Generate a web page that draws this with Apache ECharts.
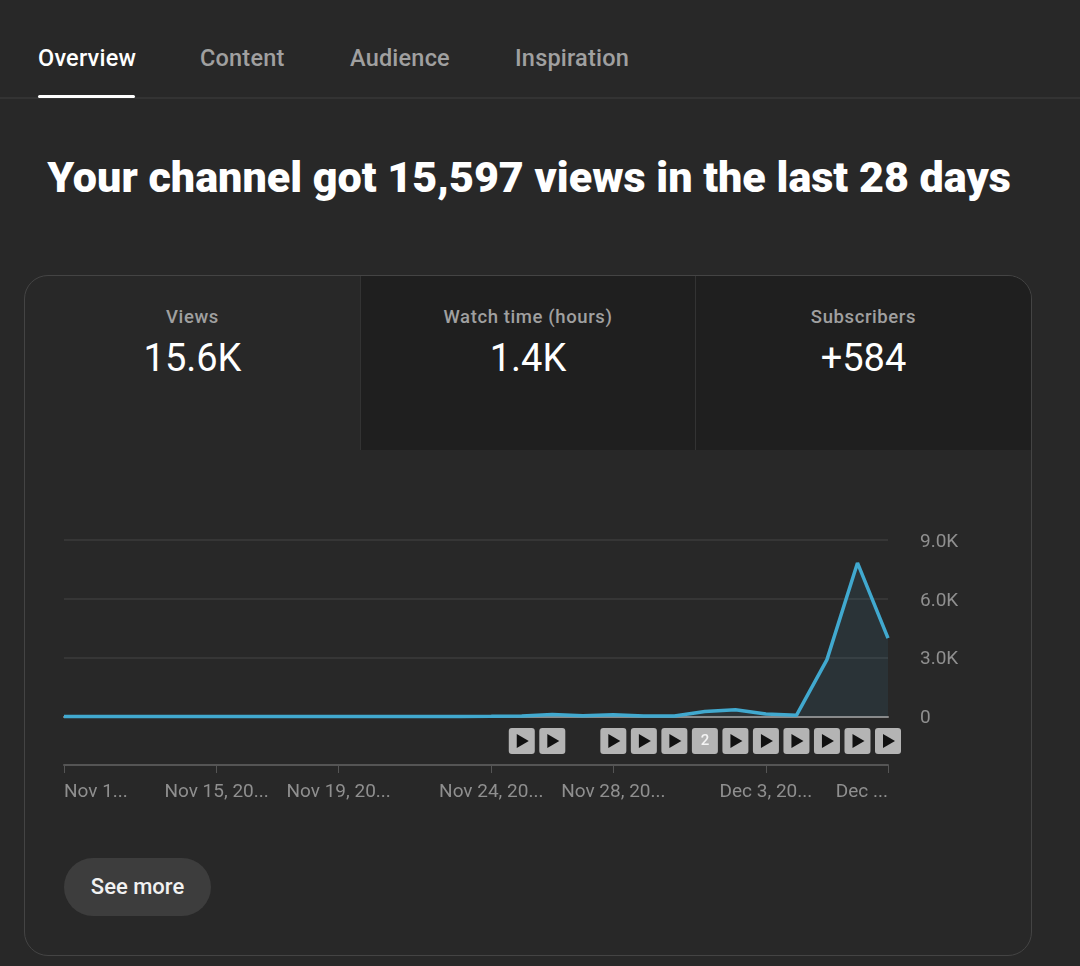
<!DOCTYPE html>
<html>
<head>
<meta charset="utf-8">
<title>Channel overview</title>
<script src="https://cdn.jsdelivr.net/npm/echarts@6/dist/echarts.min.js"></script>
<style>
  html, body { margin: 0; padding: 0; background: #282828; font-family: Roboto, sans-serif; }
  #page { position: relative; width: 1080px; height: 966px; overflow: hidden; background: #282828; }
  .tab { position: absolute; top: 44px; font-size: 23.5px; font-weight: 500; color: #a0a0a0; line-height: 28px; letter-spacing: 0.2px; }
  .tab.active { color: #fff; }
  #tabUnderline { position: absolute; left: 38px; top: 95px; width: 97px; height: 3px; background: #fff; border-radius: 2px; }
  #tabDivider { position: absolute; left: 0; top: 97px; width: 1080px; height: 2px; background: #333; }
  h1 { position: absolute; left: 0; top: 148px; width: 1058px; margin: 0; text-align: center; font-size: 43.1px; line-height: 60px; font-weight: 900; color: #fff; white-space: nowrap; }
  #card { position: absolute; left: 24px; top: 275px; width: 1006px; height: 679px; border: 1px solid #444; border-radius: 24px; overflow: hidden; }
  .metric { position: absolute; top: 0; height: 174px; text-align: center; box-sizing: border-box; }
  .metric.off { background: #1f1f1f; border-left: 1px solid #333; }
  .metric .name { margin-top: 29px; font-size: 18.5px; line-height: 24px; font-weight: 500; color: #a0a0a0; letter-spacing: 0.6px; }
  .metric .value { margin-top: 6px; font-size: 38px; line-height: 46px; color: #fff; }
  #seeMore { position: absolute; left: 64px; top: 858px; width: 147px; height: 58px; line-height: 58px; border-radius: 29px; background: #3d3d3d; color: #f1f1f1; text-align: center; font-size: 22px; font-weight: 500; }
  #chart { position: absolute; left: 0; top: 0; width: 1080px; height: 966px; }
</style>
</head>
<body>
<div id="page">
  <div class="tab active" style="left:38px">Overview</div>
  <div class="tab" style="left:200px">Content</div>
  <div class="tab" style="left:350px">Audience</div>
  <div class="tab" style="left:515px">Inspiration</div>
  <div id="tabDivider"></div>
  <div id="tabUnderline"></div>
  <h1>Your channel got 15,597 views in the last 28 days</h1>
  <div id="card">
    <div class="metric" style="left:0;width:335px"><div class="name">Views</div><div class="value">15.6K</div></div>
    <div class="metric off" style="left:335px;width:335px"><div class="name">Watch time (hours)</div><div class="value">1.4K</div></div>
    <div class="metric off" style="left:670px;width:336px"><div class="name">Subscribers</div><div class="value">+584</div></div>
  </div>
  <div id="chart"></div>
  <div id="seeMore">See more</div>
</div>
<script>
// One entry per day, Nov 10 to Dec 7
const days = ['Nov 10', 'Nov 11', 'Nov 12', 'Nov 13', 'Nov 14', 'Nov 15', 'Nov 16', 'Nov 17', 'Nov 18', 'Nov 19',
  'Nov 20', 'Nov 21', 'Nov 22', 'Nov 23', 'Nov 24', 'Nov 25', 'Nov 26', 'Nov 27', 'Nov 28', 'Nov 29',
  'Nov 30', 'Dec 1', 'Dec 2', 'Dec 3', 'Dec 4', 'Dec 5', 'Dec 6', 'Dec 7'];
const views = [0, 0, 0, 0, 0, 0, 0, 0, 0, 0, 0, 0, 0, 0, 10, 30, 100, 40, 90, 30, 30, 250, 340, 130, 60, 2900, 7830, 4000];

// Labels on the date axis (truncated as in the original)
const tickDays = ['Nov 10', 'Nov 15', 'Nov 19', 'Nov 24', 'Nov 28', 'Dec 3', 'Dec 7'];
const tickLabels = ['Nov 1...', 'Nov 15, 20...', 'Nov 19, 20...', 'Nov 24, 20...', 'Nov 28, 20...', 'Dec 3, 20...', 'Dec ...'];

// Video markers under the line, blank means a play icon
const markerDays = ['Nov 25', 'Nov 26', 'Nov 28', 'Nov 29', 'Nov 30', 'Dec 1', 'Dec 2', 'Dec 3', 'Dec 4', 'Dec 5', 'Dec 6', 'Dec 7'];
const markerCounts = ['', '', '', '', '', '2', '', '', '', '', '', ''];

const chart = echarts.init(document.getElementById('chart'));

function isTick(index) {
    return tickDays.includes(days[index]);
}

// Grey box with a play triangle (or a count), hanging below the zero line
function renderMarker(params, api) {
    const base = api.coord([api.value(0), 0]);
    const x = base[0];
    const y = base[1] + 24.5;
    const count = markerCounts[params.dataIndex];
    const children = [{
        type: 'rect',
        shape: { x: x - 13, y: y - 13, width: 26, height: 26, r: 3 },
        style: { fill: '#b4b4b4' }
    }];
    if (count) {
        children.push({
            type: 'text',
            style: { x: x, y: y, text: count, fill: '#f4f4f4', font: '500 15px Roboto', align: 'center', verticalAlign: 'middle' }
        });
    } else {
        children.push({
            type: 'polygon',
            shape: { points: [[x - 5, y - 7], [x + 7, y], [x - 5, y + 7]] },
            style: { fill: '#111' }
        });
    }
    return { type: 'group', children: children };
}

chart.setOption({
    backgroundColor: 'transparent',
    animation: false,
    grid: { left: 64, right: 192, top: 540, height: 176.5 },
    xAxis: [{
        type: 'category',
        data: days,
        boundaryGap: false,
        position: 'bottom',
        offset: 48.5,
        axisLine: { onZero: false, lineStyle: { color: '#555', width: 2 } },
        axisTick: { length: 8, interval: isTick, lineStyle: { color: '#555', width: 1 } },
        axisLabel: {
            interval: isTick,
            hideOverlap: false,
            margin: 18,
            color: '#8f8f8f',
            fontFamily: 'Roboto',
            fontSize: 19,
            alignMinLabel: 'left',
            alignMaxLabel: 'right',
            formatter: value => tickLabels[tickDays.indexOf(value)]
        }
    }, {
        // zero line
        type: 'category',
        data: days,
        boundaryGap: false,
        position: 'bottom',
        axisLine: { onZero: false, lineStyle: { color: '#8a8a8a', width: 2 } },
        axisTick: { show: false },
        axisLabel: { show: false }
    }],
    yAxis: {
        type: 'value',
        position: 'right',
        min: 0,
        max: 9000,
        interval: 3000,
        axisLine: { show: false },
        axisTick: { show: false },
        splitLine: { lineStyle: { color: '#363636', width: 2 } },
        axisLabel: {
            margin: 32,
            align: 'left',
            verticalAlign: 'top',
            lineHeight: 4,
            color: '#8f8f8f',
            fontFamily: 'Roboto',
            fontSize: 19,
            formatter: value => value === 0 ? '0' : (value / 1000).toFixed(1) + 'K'
        }
    },
    series: [{
        type: 'line',
        data: views,
        symbol: 'none',
        clip: false,
        z: 3,
        lineStyle: { color: '#41a9cf', width: 3.5 },
        areaStyle: { color: 'rgba(65, 169, 207, 0.13)' }
    }, {
        type: 'custom',
        coordinateSystem: 'cartesian2d',
        clip: false,
        z: 4,
        data: markerDays.map(day => [days.indexOf(day), 0]),
        encode: { x: 0, y: 1 },
        renderItem: renderMarker
    }]
});
</script>
</body>
</html>
